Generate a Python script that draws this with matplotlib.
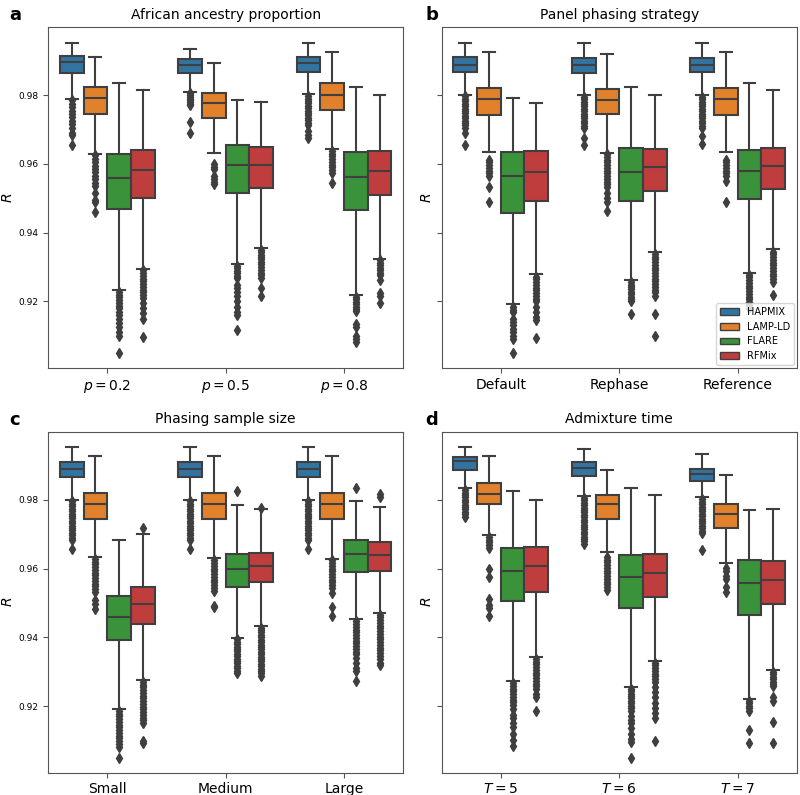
import matplotlib
matplotlib.use('Agg')
import matplotlib.pyplot as plt
from matplotlib.patches import Patch

methods = ['HAPMIX', 'LAMP-LD', 'FLARE', 'RFMix']
colors = ['#3274a1', '#e1812c', '#3a923a', '#c03d3e']
line_gray = '#3f3f3f'

titles = ['African ancestry proportion', 'Panel phasing strategy',
          'Phasing sample size', 'Admixture time']
letters = ['a', 'b', 'c', 'd']
a_groups = ['$p = 0.2$', '$p = 0.5$', '$p = 0.8$']
b_groups = ['Default', 'Rephase', 'Reference']
c_groups = ['Small', 'Medium', 'Large']
d_groups = ['$T = 5$', '$T = 6$', '$T = 7$']

# box stats, rows = groups, columns = methods
a_whishi = [[0.9953, 0.9911, 0.9835, 0.9814], [0.9933, 0.9893, 0.9786, 0.9779], [0.9951, 0.9926, 0.9825, 0.9800]]
a_q3 = [[0.9914, 0.9824, 0.9630, 0.9640], [0.9905, 0.9805, 0.9655, 0.9649], [0.9910, 0.9834, 0.9634, 0.9637]]
a_med = [[0.9895, 0.9792, 0.9559, 0.9581], [0.9887, 0.9776, 0.9597, 0.9597], [0.9892, 0.9799, 0.9563, 0.9580]]
a_q1 = [[0.9865, 0.9746, 0.9470, 0.9502], [0.9865, 0.9733, 0.9514, 0.9531], [0.9867, 0.9756, 0.9466, 0.9510]]
a_whislo = [[0.9790, 0.9630, 0.9233, 0.9295], [0.9810, 0.9633, 0.9308, 0.9355], [0.9802, 0.9644, 0.9218, 0.9324]]

b_whishi = [[0.9952, 0.9926, 0.9791, 0.9778], [0.9953, 0.9921, 0.9825, 0.9799], [0.9953, 0.9926, 0.9835, 0.9814]]
b_q3 = [[0.9911, 0.9822, 0.9635, 0.9638], [0.9909, 0.9819, 0.9647, 0.9644], [0.9909, 0.9821, 0.9641, 0.9646]]
b_med = [[0.9887, 0.9789, 0.9565, 0.9576], [0.9887, 0.9787, 0.9575, 0.9590], [0.9888, 0.9789, 0.9580, 0.9593]]
b_q1 = [[0.9866, 0.9742, 0.9458, 0.9493], [0.9865, 0.9745, 0.9492, 0.9522], [0.9867, 0.9742, 0.9498, 0.9526]]
b_whislo = [[0.9801, 0.9634, 0.9191, 0.9280], [0.9800, 0.9633, 0.9262, 0.9344], [0.9800, 0.9634, 0.9284, 0.9351]]

c_whishi = [[0.9953, 0.9927, 0.9683, 0.9700], [0.9953, 0.9927, 0.9786, 0.9773], [0.9953, 0.9927, 0.9795, 0.9778]]
c_q3 = [[0.9911, 0.9820, 0.9521, 0.9547], [0.9911, 0.9820, 0.9643, 0.9645], [0.9911, 0.9820, 0.9683, 0.9676]]
c_med = [[0.9890, 0.9789, 0.9460, 0.9496], [0.9890, 0.9789, 0.9600, 0.9606], [0.9890, 0.9789, 0.9642, 0.9639]]
c_q1 = [[0.9866, 0.9745, 0.9391, 0.9439], [0.9866, 0.9745, 0.9546, 0.9560], [0.9866, 0.9744, 0.9590, 0.9593]]
c_whislo = [[0.9800, 0.9634, 0.9192, 0.9275], [0.9800, 0.9630, 0.9399, 0.9433], [0.9800, 0.9629, 0.9452, 0.9472]]

d_whishi = [[0.9954, 0.9927, 0.9826, 0.9800], [0.9948, 0.9886, 0.9834, 0.9814], [0.9932, 0.9873, 0.9770, 0.9773]]
d_q3 = [[0.9923, 0.9850, 0.9660, 0.9663], [0.9910, 0.9814, 0.9638, 0.9641], [0.9890, 0.9789, 0.9625, 0.9623]]
d_med = [[0.9912, 0.9818, 0.9593, 0.9607], [0.9891, 0.9789, 0.9574, 0.9588], [0.9876, 0.9758, 0.9557, 0.9568]]
d_q1 = [[0.9887, 0.9788, 0.9505, 0.9533], [0.9869, 0.9745, 0.9485, 0.9517], [0.9856, 0.9719, 0.9464, 0.9496]]
d_whislo = [[0.9833, 0.9698, 0.9273, 0.9343], [0.9811, 0.9649, 0.9256, 0.9332], [0.9807, 0.9616, 0.9221, 0.9305]]

# outliers
a_fliers = [
    [[0.9785, 0.9775, 0.9765, 0.9755, 0.9745, 0.9735, 0.9725, 0.9715, 0.9705, 0.9690, 0.9683, 0.9655],
     [0.9625, 0.9615, 0.9605, 0.9595, 0.9585, 0.9575, 0.9565, 0.9555, 0.9545, 0.9535, 0.9515, 0.9495, 0.9488, 0.9460],
     [0.9228, 0.9220, 0.9212, 0.9204, 0.9196, 0.9188, 0.9180, 0.9170, 0.9160, 0.9150, 0.9138, 0.9125, 0.9112, 0.9100, 0.9051],
     [0.9290, 0.9282, 0.9274, 0.9266, 0.9258, 0.9250, 0.9242, 0.9234, 0.9226, 0.9218, 0.9210, 0.9195, 0.9180, 0.9165, 0.9150, 0.9095]],
    [[0.9805, 0.9800, 0.9795, 0.9790, 0.9785, 0.9780, 0.9775, 0.9770, 0.9722, 0.9690],
     [0.9600, 0.9592, 0.9584, 0.9565, 0.9555, 0.9548, 0.9540],
     [0.9303, 0.9296, 0.9289, 0.9282, 0.9275, 0.9268, 0.9248, 0.9238, 0.9228, 0.9215, 0.9200, 0.9185, 0.9170, 0.9160, 0.9117],
     [0.9350, 0.9343, 0.9336, 0.9329, 0.9322, 0.9315, 0.9308, 0.9300, 0.9292, 0.9284, 0.9276, 0.9268, 0.9240, 0.9216]],
    [[0.9797, 0.9790, 0.9783, 0.9776, 0.9769, 0.9762, 0.9755, 0.9748, 0.9741, 0.9734, 0.9727, 0.9720, 0.9713, 0.9695, 0.9685, 0.9675],
     [0.9638, 0.9630, 0.9622, 0.9614, 0.9606, 0.9598, 0.9590, 0.9582, 0.9574, 0.9545],
     [0.9213, 0.9206, 0.9199, 0.9192, 0.9185, 0.9178, 0.9171, 0.9135, 0.9125, 0.9100, 0.9090, 0.9083],
     [0.9319, 0.9312, 0.9305, 0.9298, 0.9291, 0.9284, 0.9277, 0.9262, 0.9225, 0.9215, 0.9196]],
]
b_fliers = [
    [[0.9796, 0.9789, 0.9782, 0.9775, 0.9768, 0.9761, 0.9754, 0.9747, 0.9740, 0.9733, 0.9726, 0.9719, 0.9712, 0.9705, 0.9689, 0.9656],
     [0.9612, 0.9604, 0.9596, 0.9588, 0.9580, 0.9572, 0.9564, 0.9534, 0.9488],
     [0.9185, 0.9175, 0.9168, 0.9150, 0.9140, 0.9130, 0.9120, 0.9110, 0.9100, 0.9092, 0.9049],
     [0.9272, 0.9264, 0.9256, 0.9248, 0.9240, 0.9232, 0.9224, 0.9216, 0.9208, 0.9200, 0.9185, 0.9170, 0.9155, 0.9145, 0.9093]],
    [[0.9795, 0.9788, 0.9781, 0.9774, 0.9767, 0.9760, 0.9753, 0.9746, 0.9739, 0.9732, 0.9725, 0.9718, 0.9711, 0.9705, 0.9675, 0.9655],
     [0.9628, 0.9620, 0.9612, 0.9604, 0.9596, 0.9588, 0.9580, 0.9572, 0.9564, 0.9556, 0.9548, 0.9540, 0.9532, 0.9515, 0.9500, 0.9488, 0.9462],
     [0.9256, 0.9249, 0.9242, 0.9235, 0.9228, 0.9221, 0.9214, 0.9207, 0.9200, 0.9162],
     [0.9338, 0.9330, 0.9322, 0.9314, 0.9306, 0.9298, 0.9290, 0.9282, 0.9274, 0.9266, 0.9258, 0.9250, 0.9242, 0.9234, 0.9226, 0.9216, 0.9162, 0.9098]],
    [[0.9795, 0.9788, 0.9781, 0.9774, 0.9767, 0.9760, 0.9753, 0.9746, 0.9739, 0.9732, 0.9725, 0.9718, 0.9711, 0.9705, 0.9680, 0.9657],
     [0.9612, 0.9604, 0.9596, 0.9588, 0.9580, 0.9572, 0.9564, 0.9550, 0.9488],
     [0.9278, 0.9270, 0.9262, 0.9254, 0.9246, 0.9238, 0.9230, 0.9222, 0.9214, 0.9206, 0.9198, 0.9190, 0.9180],
     [0.9345, 0.9337, 0.9329, 0.9321, 0.9313, 0.9305, 0.9297, 0.9289, 0.9281, 0.9273, 0.9265, 0.9257, 0.9220]],
]
c_fliers = [
    [[0.9795, 0.9788, 0.9781, 0.9774, 0.9767, 0.9760, 0.9753, 0.9746, 0.9739, 0.9732, 0.9725, 0.9718, 0.9711, 0.9704, 0.9697, 0.9690, 0.9683, 0.9656],
     [0.9628, 0.9620, 0.9612, 0.9604, 0.9596, 0.9588, 0.9580, 0.9572, 0.9564, 0.9556, 0.9548, 0.9540, 0.9532, 0.9507, 0.9497, 0.9483],
     [0.9186, 0.9178, 0.9170, 0.9162, 0.9154, 0.9146, 0.9138, 0.9130, 0.9122, 0.9114, 0.9106, 0.9098, 0.9090, 0.9082, 0.9048],
     [0.9718, 0.9270, 0.9262, 0.9254, 0.9246, 0.9238, 0.9230, 0.9222, 0.9214, 0.9206, 0.9198, 0.9190, 0.9182, 0.9174, 0.9166, 0.9158, 0.9150, 0.9098, 0.9093]],
    [[0.9795, 0.9788, 0.9781, 0.9774, 0.9767, 0.9760, 0.9753, 0.9746, 0.9739, 0.9732, 0.9725, 0.9718, 0.9711, 0.9704, 0.9697, 0.9690, 0.9683, 0.9656],
     [0.9624, 0.9616, 0.9608, 0.9600, 0.9592, 0.9584, 0.9576, 0.9568, 0.9560, 0.9552, 0.9544, 0.9535, 0.9490, 0.9487],
     [0.9826, 0.9394, 0.9387, 0.9380, 0.9373, 0.9366, 0.9359, 0.9352, 0.9345, 0.9338, 0.9331, 0.9324, 0.9317, 0.9310, 0.9303, 0.9297],
     [0.9777, 0.9428, 0.9421, 0.9414, 0.9407, 0.9400, 0.9393, 0.9386, 0.9379, 0.9372, 0.9365, 0.9358, 0.9351, 0.9344, 0.9337, 0.9330, 0.9323, 0.9316, 0.9309, 0.9302, 0.9295, 0.9288]],
    [[0.9795, 0.9788, 0.9781, 0.9774, 0.9767, 0.9760, 0.9753, 0.9746, 0.9739, 0.9732, 0.9725, 0.9718, 0.9711, 0.9704, 0.9697, 0.9690, 0.9683, 0.9656],
     [0.9624, 0.9616, 0.9608, 0.9600, 0.9592, 0.9584, 0.9576, 0.9568, 0.9560, 0.9552, 0.9544, 0.9530, 0.9488, 0.9461],
     [0.9835, 0.9446, 0.9438, 0.9430, 0.9422, 0.9414, 0.9406, 0.9398, 0.9390, 0.9382, 0.9374, 0.9366, 0.9358, 0.9350, 0.9340, 0.9325, 0.9310, 0.9302, 0.9272],
     [0.9817, 0.9808, 0.9466, 0.9458, 0.9450, 0.9442, 0.9434, 0.9426, 0.9418, 0.9410, 0.9402, 0.9394, 0.9386, 0.9378, 0.9370, 0.9362, 0.9354, 0.9346, 0.9338, 0.9325, 0.9318]],
]
d_fliers = [
    [[0.9828, 0.9821, 0.9814, 0.9807, 0.9800, 0.9793, 0.9786, 0.9779, 0.9772, 0.9765, 0.9758, 0.9751],
     [0.9692, 0.9684, 0.9676, 0.9668, 0.9660, 0.9600, 0.9576, 0.9510, 0.9495, 0.9485, 0.9461],
     [0.9267, 0.9259, 0.9251, 0.9243, 0.9235, 0.9227, 0.9219, 0.9211, 0.9203, 0.9190, 0.9175, 0.9165, 0.9150, 0.9138, 0.9120, 0.9102, 0.9083],
     [0.9337, 0.9329, 0.9321, 0.9313, 0.9305, 0.9297, 0.9289, 0.9281, 0.9273, 0.9265, 0.9257, 0.9250, 0.9235, 0.9225, 0.9185]],
    [[0.9805, 0.9798, 0.9791, 0.9784, 0.9777, 0.9770, 0.9763, 0.9756, 0.9749, 0.9742, 0.9735, 0.9728, 0.9721, 0.9714, 0.9707, 0.9700, 0.9693, 0.9686, 0.9679, 0.9670],
     [0.9634, 0.9626, 0.9618, 0.9610, 0.9602, 0.9594, 0.9586, 0.9578, 0.9570, 0.9562, 0.9554, 0.9546, 0.9537],
     [0.9250, 0.9243, 0.9236, 0.9229, 0.9222, 0.9215, 0.9208, 0.9201, 0.9194, 0.9187, 0.9170, 0.9160, 0.9150, 0.9135, 0.9120, 0.9105, 0.9095, 0.9048],
     [0.9326, 0.9318, 0.9310, 0.9302, 0.9294, 0.9286, 0.9278, 0.9270, 0.9255, 0.9240, 0.9225, 0.9210, 0.9195, 0.9180, 0.9165, 0.9097]],
    [[0.9801, 0.9794, 0.9787, 0.9780, 0.9773, 0.9766, 0.9759, 0.9752, 0.9745, 0.9738, 0.9731, 0.9724, 0.9717, 0.9710, 0.9703, 0.9655],
     [0.9602, 0.9594, 0.9578, 0.9570, 0.9545, 0.9532],
     [0.9215, 0.9208, 0.9201, 0.9194, 0.9187, 0.9131, 0.9093],
     [0.9299, 0.9292, 0.9285, 0.9278, 0.9271, 0.9264, 0.9257, 0.9225, 0.9215, 0.9155, 0.9093]],
]

panels = [
    (a_groups, a_whishi, a_q3, a_med, a_q1, a_whislo, a_fliers),
    (b_groups, b_whishi, b_q3, b_med, b_q1, b_whislo, b_fliers),
    (c_groups, c_whishi, c_q3, c_med, c_q1, c_whislo, c_fliers),
    (d_groups, d_whishi, d_q3, d_med, d_q1, d_whislo, d_fliers),
]

fig = plt.figure(figsize=(8, 7.95), dpi=100)
rects = [[0.060, 0.537, 0.444, 0.429], [0.552, 0.537, 0.444, 0.429],
         [0.060, 0.028, 0.444, 0.429], [0.552, 0.028, 0.444, 0.429]]

axes = []
for k, (groups, whishi, q3, med, q1, whislo, fliers) in enumerate(panels):
    ax = fig.add_axes(rects[k], sharey=axes[0] if axes else None)
    axes.append(ax)
    for i in range(len(groups)):
        for j in range(len(methods)):
            st = [dict(med=med[i][j], q1=q1[i][j], q3=q3[i][j],
                       whislo=whislo[i][j], whishi=whishi[i][j],
                       fliers=fliers[i][j])]
            ax.bxp(st, positions=[i + (j - 1.5) * 0.2], widths=0.2,
                   patch_artist=True, manage_ticks=False,
                   boxprops=dict(facecolor=colors[j], edgecolor=line_gray, linewidth=1.5),
                   medianprops=dict(color=line_gray, linewidth=1.5),
                   whiskerprops=dict(color=line_gray, linewidth=1.5),
                   capprops=dict(color=line_gray, linewidth=1.5),
                   flierprops=dict(marker='d', markerfacecolor=line_gray,
                                   markeredgecolor=line_gray, markersize=5,
                                   linestyle='none'))
    ax.set_xlim(-0.5, 2.5)
    ax.set_xticks(range(len(groups)))
    ax.set_xticklabels(groups, fontsize=10)
    ax.tick_params(axis='y', labelsize=6.5)
    ax.set_title(titles[k], fontsize=10)
    ax.set_ylabel('$R$', fontsize=10, labelpad=2)
    for s in ax.spines.values():
        s.set_color('#555555')
    ax.tick_params(color='#555555')
    if k % 2 == 1:
        ax.tick_params(axis='y', labelleft=False)

axes[0].set_ylim(0.9006, 0.9998)
axes[0].set_yticks([0.92, 0.94, 0.96, 0.98])

handles = [Patch(facecolor=colors[j], edgecolor=line_gray, linewidth=1.0, label=methods[j])
           for j in range(len(methods))]
axes[1].legend(handles=handles, loc='lower right', fontsize=7,
               borderaxespad=0.3, handlelength=2.0)

letter_pos = [(0.012, 0.975), (0.532, 0.975), (0.012, 0.465), (0.532, 0.465)]
for k, (x, y) in enumerate(letter_pos):
    fig.text(x, y, letters[k], fontsize=13, fontweight='bold', ha='left', va='baseline')

fig.savefig('out.png', dpi=100)
